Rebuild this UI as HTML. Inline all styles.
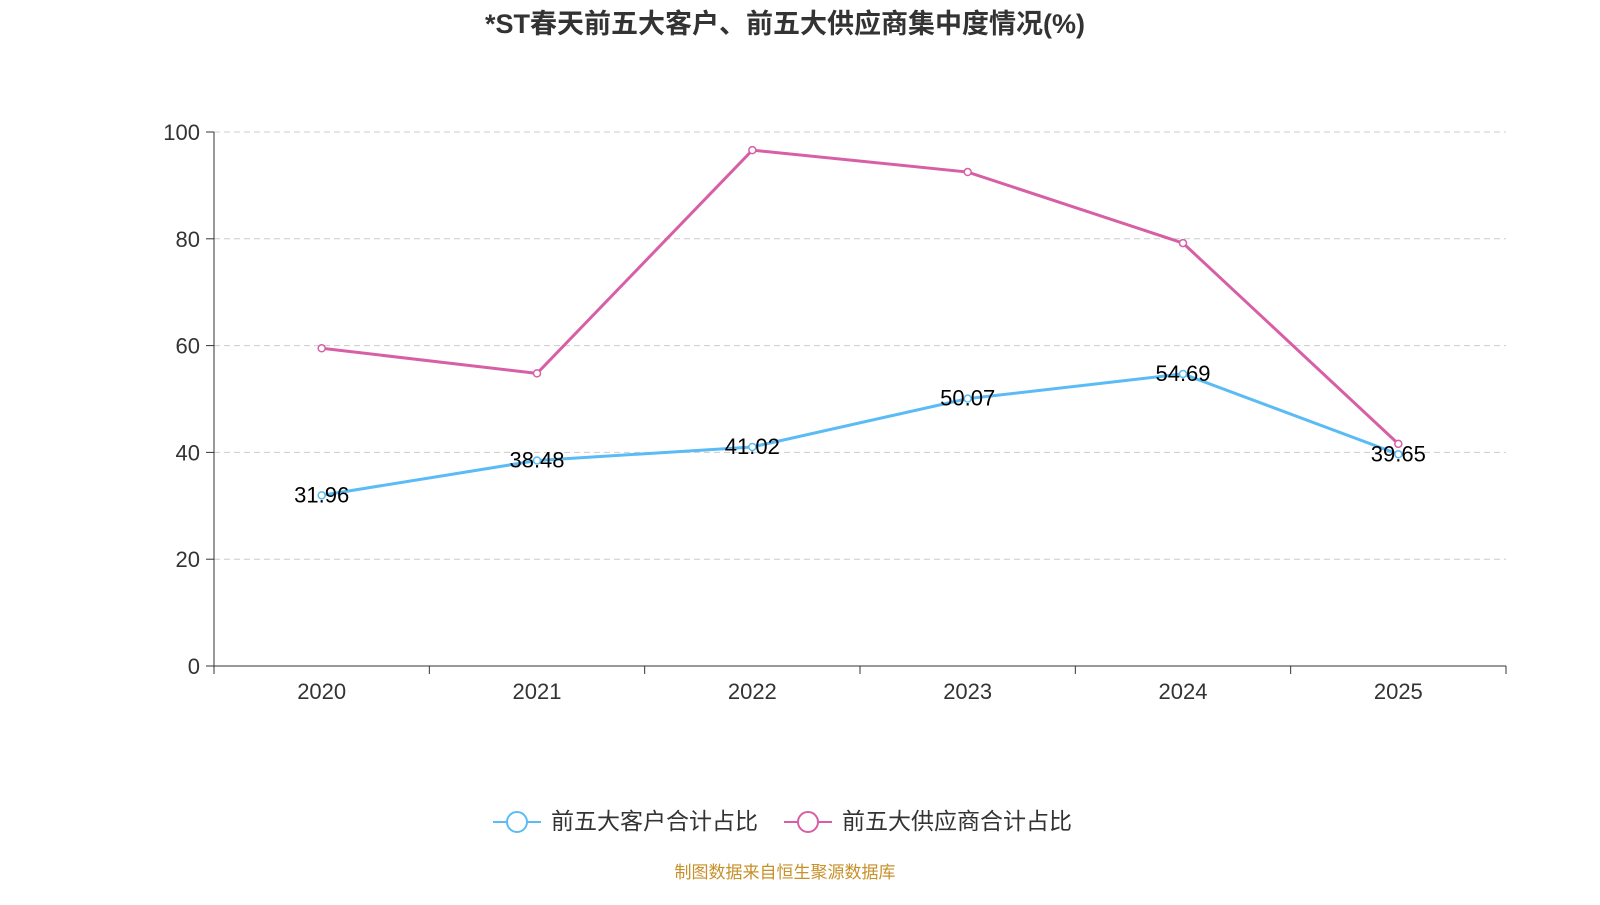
<!DOCTYPE html>
<html><head><meta charset="utf-8"><style>
html,body{margin:0;padding:0;background:#fff;}
body{width:1600px;height:900px;overflow:hidden;font-family:"Liberation Sans","Noto Sans CJK SC",sans-serif;}
</style></head><body>
<svg id="chart" width="1600" height="900" xmlns="http://www.w3.org/2000/svg" font-family="Liberation Sans, Noto Sans CJK SC, sans-serif">
<text x="785" y="33" text-anchor="middle" font-size="27" font-weight="bold" fill="#333">*ST春天前五大客户、前五大供应商集中度情况(%)</text>
<g id="grid"></g><g id="axes"></g><g id="series"></g>
<g>
<g>
<line x1="493" y1="822" x2="541" y2="822" stroke="#5bbcf5" stroke-width="2"/>
<circle cx="517" cy="822" r="10" fill="#fff" stroke="#5bbcf5" stroke-width="2"/>
<text x="551" y="829" font-size="23" fill="#333">前五大客户合计占比</text></g>
<g>
<line x1="784" y1="822" x2="832" y2="822" stroke="#d75fa6" stroke-width="2"/>
<circle cx="808" cy="822" r="10" fill="#fff" stroke="#d75fa6" stroke-width="2"/>
<text x="842" y="829" font-size="23" fill="#333">前五大供应商合计占比</text></g>
</g>
<text x="785" y="878" text-anchor="middle" font-size="17" fill="#c8902a">制图数据来自恒生聚源数据库</text>
</svg>
<script>
const categories=["2020","2021","2022","2023","2024","2025"];
const customerValues=[31.96,38.48,41.02,50.07,54.69,39.65];
const supplierValues=[59.5,54.8,96.6,92.5,79.2,41.6];
const yTicks=[0,20,40,60,80,100];
const NS="http://www.w3.org/2000/svg";
const X0=214,X1=1506,Y0=666,Y1=132;
const band=(X1-X0)/categories.length;
const xs=i=>X0+band*(i+0.5);
const ys=v=>Y0-(v/100)*(Y0-Y1);
function mk(t,a,p){const e=document.createElementNS(NS,t);for(const k in a)e.setAttribute(k,a[k]);p.appendChild(e);return e;}
const grid=document.getElementById('grid'),axes=document.getElementById('axes'),ser=document.getElementById('series');
yTicks.forEach(v=>{
 if(v>0){const g=mk('line',{x1:X0,x2:X1,y1:ys(v),y2:ys(v),stroke:'#ccc','stroke-dasharray':'6,4'},grid);
 
 }
 const tk=mk('line',{x1:X0-8,x2:X0,y1:ys(v),y2:ys(v),stroke:'#333'},axes);
 
 
 const t=mk('text',{x:X0-14,y:ys(v)+8,'text-anchor':'end','font-size':22,fill:'#333'},axes);
 
 
 t.textContent=v;
});
const ya=mk('line',{x1:X0,x2:X0,y1:Y1,y2:Y0,stroke:'#333'},axes);


const xa=mk('line',{x1:X0,x2:X1,y1:Y0,y2:Y0,stroke:'#333'},axes);


for(let i=0;i<=categories.length;i++){const tk=mk('line',{x1:X0+band*i,x2:X0+band*i,y1:Y0,y2:Y0+8,stroke:'#333'},axes);
 
 }
categories.forEach((c,i)=>{const t=mk('text',{x:xs(i),y:Y0+33,'text-anchor':'middle','font-size':22,fill:'#333'},axes);
 
 
 t.textContent=c;});
function series(vals,color,name,labels){
 const p=mk('polyline',{points:vals.map((v,i)=>xs(i)+','+ys(v)).join(' '),fill:'none',stroke:color,'stroke-width':3},ser);
 
 
 vals.forEach((v,i)=>{const c=mk('circle',{cx:xs(i),cy:ys(v),r:3.5,fill:'#fff',stroke:color,'stroke-width':1.5},ser);
  
  
  if(labels){const t=mk('text',{x:xs(i),y:ys(v)+7,'text-anchor':'middle','font-size':22,fill:'#000'},ser);
  
  
  t.textContent=v.toFixed(2);}
 });
}
series(supplierValues,'#d75fa6','supplier',false);
series(customerValues,'#5bbcf5','customer',true);
</script>
</body></html>
